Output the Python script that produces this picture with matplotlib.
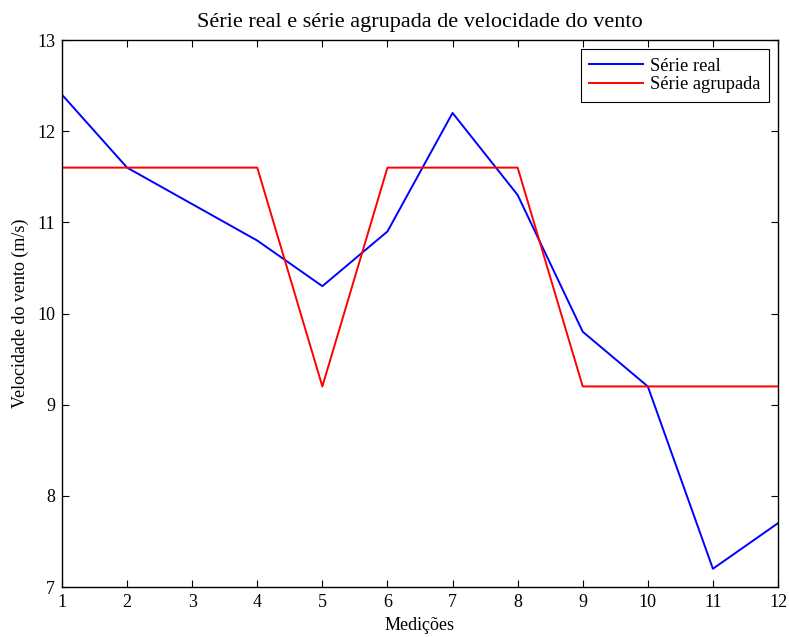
import matplotlib
matplotlib.use("Agg")
import matplotlib.pyplot as plt

plt.rcParams['font.family'] = ['Liberation Serif', 'DejaVu Serif']
plt.rcParams['mathtext.fontset'] = 'stix'

medicoes = [1, 2, 3, 4, 5, 6, 7, 8, 9, 10, 11, 12]
serie_real = [12.4, 11.6, 11.2, 10.8, 10.3, 10.9, 12.2, 11.3, 9.8, 9.2, 7.2, 7.7]
serie_agrupada = [11.6, 11.6, 11.6, 11.6, 9.2, 11.6, 11.6, 11.6, 9.2, 9.2, 9.2, 9.2]
yticks = [7, 8, 9, 10, 11, 12, 13]

fig = plt.figure(figsize=(7.89, 6.37), dpi=100)
ax = fig.add_axes([62/789, 50/637, (778-62)/789, (587-40)/637])

ax.plot(medicoes, serie_real, color='#0000ff', lw=1.4, label='Série real')
ax.plot(medicoes, serie_agrupada, color='#ff0000', lw=1.4, label='Série agrupada')

ax.set_xlim(1, 12)
ax.set_ylim(7, 13)
ax.set_xticks(medicoes)
ax.set_yticks(yticks)
ax.tick_params(direction='in', top=True, right=True, labelsize=13, length=5, width=0.8, pad=5)
for s in ax.spines.values():
    s.set_linewidth(1.0)

ax.set_title('Série real e série agrupada de velocidade do vento', fontsize=16, pad=9)
ax.set_xlabel('Medições', fontsize=13, labelpad=4)
ax.set_ylabel('Velocidade do vento (m/s)', fontsize=13, labelpad=6)

leg = ax.legend(loc='upper right', fontsize=13.3, frameon=True, fancybox=False,
                edgecolor='black', framealpha=1, borderpad=0.45, handlelength=2.9,
                labelspacing=0.1, borderaxespad=0.5, handletextpad=0.4)
leg.get_frame().set_linewidth(0.8)

fig.savefig('out.png', dpi=100)
